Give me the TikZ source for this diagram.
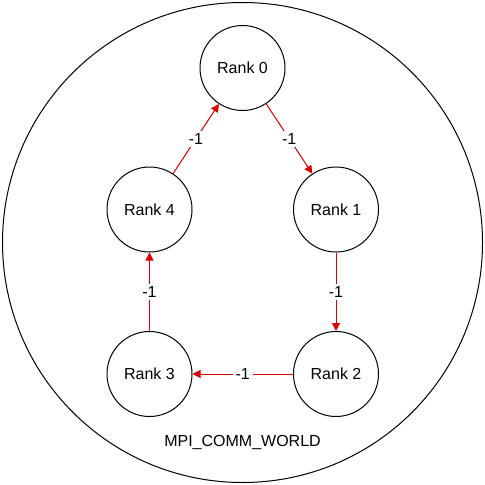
\documentclass[tikz,border=0pt]{standalone}
\usepackage{fontspec}
\setmainfont{Liberation Sans}
\usepackage{xcolor}
\definecolor{msgRed}{RGB}{221,0,0}
\usepackage{tikz}
\usetikzlibrary{arrows.meta}

\begin{document}
\begin{tikzpicture}[x=0.75pt, y=-0.75pt, every node/.style={inner sep=.25ex},
    rank/.style={draw, circle, line width=0.75pt, minimum size=63.75pt, font=\fontsize{12}{14}\selectfont},
    msg/.style={draw=msgRed, line width=0.75pt, -{Triangle[length=6pt, width=6pt]}, fill=msgRed},
    lbl/.style={fill=white, text=black, inner sep=2pt, font=\fontsize{12}{14}\selectfont}]
  \useasboundingbox (0,0) rectangle (485,485);
  % communicator
  \draw[line width=0.75pt] (242.5,242.5) circle[radius=180pt];
  \node[font=\fontsize{12}{14}\selectfont] (world) at (242.5,442) {MPI\_COMM\_WORLD};
  % ranks
  \node[rank] (r0) at (242.5,68) {Rank 0};
  \node[rank] (r1) at (336,209.5) {Rank 1};
  \node[rank] (r2) at (336,374) {Rank 2};
  \node[rank] (r3) at (149.5,374) {Rank 3};
  \node[rank] (r4) at (149.5,209.5) {Rank 4};
  % ring of messages
  \draw[msg] (r0) -- node[lbl] {-1} (r1);
  \draw[msg] (r1) -- node[lbl] {-1} (r2);
  \draw[msg] (r2) -- node[lbl] {-1} (r3);
  \draw[msg] (r3) -- node[lbl] {-1} (r4);
  \draw[msg] (r4) -- node[lbl] {-1} (r0);

\end{tikzpicture}
\end{document}
